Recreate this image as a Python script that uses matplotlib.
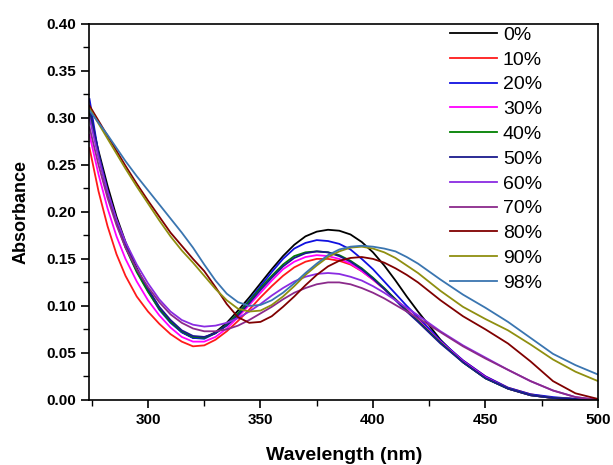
import matplotlib
matplotlib.use("Agg")
import matplotlib.pyplot as plt
from matplotlib.ticker import MultipleLocator

plt.rcParams["font.family"] = ["Liberation Sans", "DejaVu Sans"]

# Wavelength grid (nm)
wavelength = [274, 278, 282, 286, 290, 295, 300, 305, 310, 315, 320, 325, 330,
              335, 340, 345, 350, 355, 360, 365, 370, 375, 380, 385, 390, 395,
              400, 405, 410, 415, 420, 430, 440, 450, 460, 470, 480, 490, 500]

labels = ["0%", "10%", "20%", "30%", "40%", "50%", "60%", "70%", "80%", "90%", "98%"]

a_00 = [0.305, 0.265, 0.228, 0.195, 0.168, 0.140, 0.117, 0.098, 0.083, 0.072, 0.066, 0.066, 0.072,
        0.082, 0.095, 0.109, 0.124, 0.139, 0.153, 0.165, 0.174, 0.179, 0.181, 0.180, 0.176, 0.168,
        0.157, 0.143, 0.127, 0.110, 0.094, 0.064, 0.040, 0.023, 0.012, 0.005, 0.002, 0.001, 0.000]
a_10 = [0.268, 0.222, 0.185, 0.155, 0.132, 0.110, 0.094, 0.081, 0.070, 0.062, 0.057, 0.058, 0.064,
        0.073, 0.084, 0.096, 0.109, 0.121, 0.132, 0.141, 0.147, 0.150, 0.150, 0.148, 0.144, 0.137,
        0.128, 0.118, 0.107, 0.096, 0.085, 0.062, 0.042, 0.025, 0.013, 0.006, 0.002, 0.001, 0.000]
a_20 = [0.320, 0.262, 0.222, 0.190, 0.163, 0.137, 0.116, 0.096, 0.082, 0.072, 0.066, 0.065, 0.071,
        0.080, 0.092, 0.106, 0.121, 0.136, 0.150, 0.161, 0.167, 0.170, 0.169, 0.166, 0.160, 0.150,
        0.139, 0.126, 0.113, 0.100, 0.088, 0.063, 0.042, 0.025, 0.013, 0.006, 0.003, 0.001, 0.000]
a_30 = [0.282, 0.240, 0.204, 0.174, 0.150, 0.126, 0.106, 0.090, 0.077, 0.067, 0.062, 0.062, 0.067,
        0.076, 0.088, 0.101, 0.114, 0.127, 0.139, 0.147, 0.152, 0.154, 0.153, 0.150, 0.145, 0.137,
        0.128, 0.118, 0.107, 0.096, 0.085, 0.062, 0.041, 0.024, 0.012, 0.005, 0.002, 0.001, 0.000]
a_40 = [0.310, 0.260, 0.220, 0.188, 0.162, 0.136, 0.115, 0.097, 0.083, 0.073, 0.067, 0.066, 0.071,
        0.080, 0.092, 0.105, 0.119, 0.132, 0.144, 0.153, 0.157, 0.158, 0.157, 0.154, 0.148, 0.140,
        0.130, 0.119, 0.107, 0.095, 0.084, 0.061, 0.040, 0.023, 0.012, 0.005, 0.002, 0.001, 0.000]
a_50 = [0.312, 0.262, 0.223, 0.191, 0.165, 0.139, 0.118, 0.099, 0.085, 0.074, 0.068, 0.067, 0.071,
        0.079, 0.090, 0.103, 0.117, 0.130, 0.142, 0.151, 0.156, 0.158, 0.157, 0.153, 0.147, 0.139,
        0.129, 0.118, 0.106, 0.094, 0.083, 0.060, 0.040, 0.023, 0.012, 0.005, 0.002, 0.001, 0.000]
a_60 = [0.300, 0.258, 0.222, 0.192, 0.168, 0.144, 0.124, 0.107, 0.094, 0.085, 0.080, 0.078, 0.079,
        0.082, 0.087, 0.094, 0.102, 0.111, 0.119, 0.126, 0.131, 0.134, 0.135, 0.134, 0.131, 0.127,
        0.121, 0.114, 0.106, 0.098, 0.090, 0.073, 0.058, 0.045, 0.032, 0.020, 0.010, 0.003, 0.000]
a_70 = [0.290, 0.250, 0.215, 0.186, 0.162, 0.139, 0.120, 0.104, 0.091, 0.082, 0.076, 0.073, 0.073,
        0.075, 0.079, 0.085, 0.092, 0.099, 0.107, 0.114, 0.119, 0.123, 0.125, 0.125, 0.123, 0.119,
        0.114, 0.108, 0.101, 0.094, 0.087, 0.072, 0.057, 0.044, 0.032, 0.020, 0.010, 0.003, 0.000]
a_80 = [0.313, 0.297, 0.281, 0.265, 0.249, 0.230, 0.212, 0.195, 0.178, 0.164, 0.150, 0.137, 0.120,
        0.102, 0.088, 0.082, 0.083, 0.089, 0.099, 0.110, 0.122, 0.133, 0.142, 0.148, 0.151, 0.152,
        0.150, 0.146, 0.140, 0.133, 0.125, 0.106, 0.089, 0.075, 0.060, 0.041, 0.020, 0.007, 0.001]
a_90 = [0.310, 0.294, 0.278, 0.262, 0.246, 0.227, 0.209, 0.191, 0.174, 0.159, 0.146, 0.132, 0.118,
        0.106, 0.097, 0.094, 0.095, 0.101, 0.110, 0.121, 0.133, 0.143, 0.152, 0.158, 0.162, 0.163,
        0.161, 0.157, 0.151, 0.143, 0.135, 0.116, 0.099, 0.086, 0.074, 0.059, 0.043, 0.030, 0.020]
a_98 = [0.308, 0.295, 0.282, 0.268, 0.254, 0.238, 0.223, 0.208, 0.193, 0.178, 0.162, 0.144, 0.127,
        0.113, 0.104, 0.100, 0.101, 0.106, 0.114, 0.124, 0.135, 0.145, 0.154, 0.160, 0.163, 0.164,
        0.163, 0.161, 0.158, 0.152, 0.145, 0.128, 0.112, 0.098, 0.083, 0.066, 0.049, 0.037, 0.027]

series = [a_00, a_10, a_20, a_30, a_40, a_50, a_60, a_70, a_80, a_90, a_98]
colors = ["#000000", "#ff1a1a", "#1010e0", "#ff00ff", "#008000", "#1a1a8c",
          "#8a2be2", "#8b2a8b", "#800000", "#8f8f10", "#3a75b0"]

fig = plt.figure(figsize=(6.13, 4.65), dpi=100)
ax = fig.add_axes([0.146, 0.140, 0.8295, 0.8086])

for vals, col, lab in zip(series, colors, labels):
    ax.plot(wavelength, vals, color=col, lw=1.3, label=lab)

ax.set_xlim(274, 500)
ax.set_ylim(0, 0.40)
ax.xaxis.set_major_locator(MultipleLocator(50))
ax.xaxis.set_minor_locator(MultipleLocator(25))
ax.yaxis.set_minor_locator(MultipleLocator(0.025))
ax.set_yticks([0.00, 0.05, 0.10, 0.15, 0.20, 0.25, 0.30, 0.35, 0.40])
ax.set_yticklabels([f"{v:.2f}" for v in ax.get_yticks()])
ax.tick_params(which="major", direction="out", length=6, width=1.2, labelsize=11)
ax.tick_params(which="minor", direction="out", length=4, width=1.0)
for lab in ax.get_xticklabels() + ax.get_yticklabels():
    lab.set_fontweight("bold")
for sp in ax.spines.values():
    sp.set_linewidth(1.2)

ax.set_xlabel("Wavelength (nm)", fontsize=14, fontweight="bold", labelpad=14)
ax.set_ylabel("Absorbance", fontsize=13, fontweight="bold", labelpad=12)

ax.legend(loc="upper left", bbox_to_anchor=(0.683, 1.03), frameon=False,
          fontsize=14, handlelength=2.4, handletextpad=0.3, labelspacing=0.37,
          borderpad=0.2)

fig.savefig("out.png", dpi=100)
